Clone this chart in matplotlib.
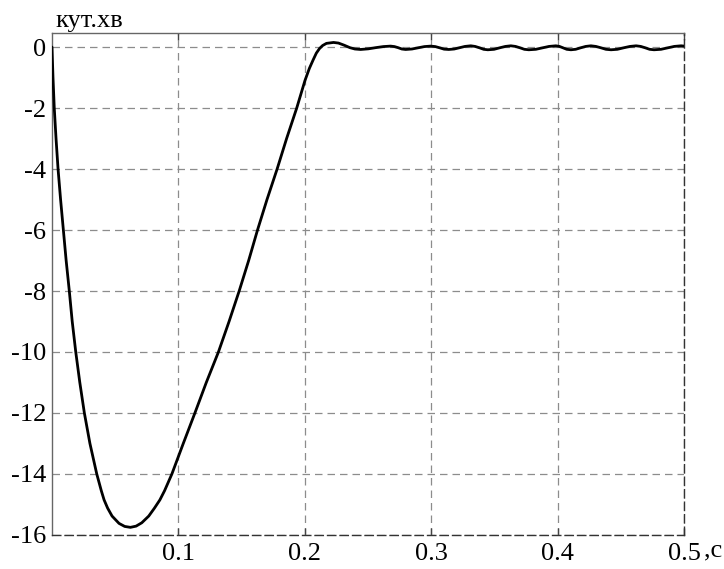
import matplotlib.pyplot as plt

# Values (time in s, angle in arc minutes)
# fall to the minimum
fall_t = [0.0, 0.0008, 0.0018, 0.0032, 0.0048, 0.0068, 0.009, 0.0112, 0.0137, 0.016,
          0.0188, 0.022, 0.0256, 0.030, 0.0354, 0.039, 0.0412, 0.044, 0.0475, 0.053,
          0.0575, 0.062]
fall_v = [0.0, -1.0, -2.0, -3.0, -4.0, -5.0, -6.0, -7.0, -8.0, -9.0,
          -10.0, -11.0, -12.0, -13.0, -14.0, -14.55, -14.85, -15.12, -15.38, -15.62,
          -15.72, -15.75]
# rise back to zero and overshoot
rise_t = [0.0665, 0.071, 0.0765, 0.081, 0.0853, 0.089, 0.0948, 0.1038, 0.113, 0.122,
          0.1316, 0.14, 0.148, 0.1555, 0.1625, 0.170, 0.178, 0.1855, 0.1935, 0.2,
          0.2035, 0.2065, 0.209, 0.2115, 0.214, 0.217, 0.2226]
rise_v = [-15.71, -15.6, -15.38, -15.12, -14.85, -14.55, -14.0, -13.0, -12.0, -11.0,
          -10.0, -9.0, -8.0, -7.0, -6.0, -5.0, -4.0, -3.0, -2.0, -1.1,
          -0.7, -0.42, -0.2, -0.05, 0.05, 0.12, 0.15]
# small steady-state ripple
ripple_t = [0.2265, 0.231, 0.2355, 0.2395, 0.244, 0.250, 0.256, 0.262, 0.2677, 0.2707,
            0.2736, 0.2766, 0.2796, 0.2846, 0.2895, 0.2945, 0.2994, 0.303, 0.3065, 0.310,
            0.3137, 0.318, 0.322, 0.3265, 0.3311, 0.3345, 0.338, 0.3413, 0.3446, 0.3495,
            0.354, 0.3585, 0.3628, 0.3665, 0.37, 0.3735, 0.377, 0.3825, 0.388, 0.393,
            0.3984, 0.4012, 0.404, 0.407, 0.4103, 0.414, 0.418, 0.422, 0.4261, 0.430,
            0.434, 0.438, 0.442, 0.447, 0.452, 0.457, 0.4618, 0.4655, 0.469, 0.4725,
            0.476, 0.4815, 0.487, 0.492, 0.4974, 0.5]
ripple_v = [0.13, 0.06, -0.02, -0.065, -0.08, -0.06, -0.02, 0.015, 0.03, 0.015,
            -0.02, -0.065, -0.08, -0.065, -0.025, 0.015, 0.03, 0.015, -0.025, -0.07,
            -0.08, -0.065, -0.025, 0.02, 0.04, 0.02, -0.025, -0.075, -0.09, -0.075,
            -0.025, 0.02, 0.04, 0.02, -0.025, -0.075, -0.09, -0.075, -0.025, 0.02,
            0.04, 0.02, -0.025, -0.075, -0.09, -0.075, -0.025, 0.02, 0.04, 0.02,
            -0.025, -0.075, -0.09, -0.075, -0.025, 0.02, 0.04, 0.02, -0.025, -0.075,
            -0.09, -0.075, -0.025, 0.02, 0.04, 0.03]

x_ticks = [0.1, 0.2, 0.3, 0.4, 0.5]
x_labels = ['0.1', '0.2', '0.3', '0.4', '0.5']
y_ticks = [0, -2, -4, -6, -8, -10, -12, -14, -16]

time_s = fall_t + rise_t + ripple_t
angle_min = fall_v + rise_v + ripple_v

plt.rcParams['font.family'] = ['Liberation Serif', 'DejaVu Serif']

fig = plt.figure(figsize=(7.24, 5.69), dpi=100)
ax = fig.add_axes([0.0718, 0.0598, 0.8735, 0.8822])

ax.plot(time_s, angle_min, color='black', linewidth=2.0, zorder=3,
        solid_joinstyle='round', solid_capstyle='round')

ax.set_xlim(0, 0.5)
ax.set_ylim(-16, 0.46)
ax.set_xticks(x_ticks)
ax.set_xticklabels(x_labels)
ax.set_yticks(y_ticks)
ax.set_yticklabels([str(v) for v in y_ticks])

# dashed grey grid
ax.grid(True, color='#8c8c8c', linestyle=(0, (6, 4)), linewidth=0.9)

ax.tick_params(axis='x', direction='in', length=5, width=1, color='#444444',
               top=True, labelsize=19, pad=6)
ax.tick_params(axis='y', length=0, labelsize=19, pad=4)

for side in ['top', 'left']:
    ax.spines[side].set_color('#666666')
    ax.spines[side].set_linewidth(1.0)
for side in ['bottom', 'right']:
    ax.spines[side].set_color('#333333')
    ax.spines[side].set_linestyle((0, (6, 3)))
    ax.spines[side].set_linewidth(1.0)

# axis captions
fig.text(0.076, 0.952, 'кут.хв', fontsize=19, ha='left', va='baseline')
fig.text(0.972, 0.022, ',с', fontsize=19, ha='left', va='baseline')

plt.savefig('out.png', dpi=100)
